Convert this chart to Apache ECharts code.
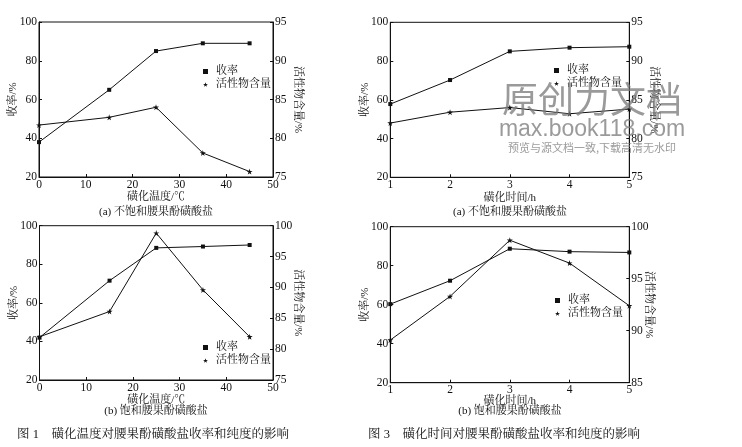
<!DOCTYPE html>
<html><head><meta charset="utf-8">
<script src="https://cdn.jsdelivr.net/npm/echarts@6/dist/echarts.min.js"></script>
<style>html,body{margin:0;padding:0;background:#fff}#c{width:742px;height:447px}</style>
</head><body><div id="c"></div>
<script>
const tempX = [0, 15, 25, 35, 45];
const timeX = [1, 2, 3, 4, 5];
const yieldTempA = [38, 65, 85, 89, 89];
const activeTempA = [81.7, 82.7, 84.0, 78.1, 75.7];
const yieldTempB = [42, 71.5, 88.5, 89.2, 90];
const activeTempB = [82.0, 86.1, 98.8, 89.6, 82.0];
const yieldTimeA = [57.8, 70.2, 85, 86.9, 87.4];
const activeTimeA = [82.0, 83.4, 84.0, 83.2, 83.8];
const yieldTimeB = [60.3, 72.3, 88.7, 87.2, 86.8];
const activeTimeB = [89.1, 93.3, 98.7, 96.5, 92.4];
const leftTicks = [20, 40, 60, 80, 100];

const FONT = '"Liberation Serif","Noto Serif CJK SC","Noto Sans CJK SC",serif';
const STAR = 'path://M50,0 L61,35 L98,35 L68,57 L79,91 L50,70 L21,91 L32,57 L2,35 L39,35 Z';
const zip = (xs, ys) => xs.map((x, i) => [x, ys[i]]);

const grids = [
  {left: 39, top: 22, width: 234, height: 155},
  {left: 39.5, top: 225.7, width: 233.5, height: 154.3},
  {left: 390.3, top: 22.3, width: 239, height: 155},
  {left: 390.3, top: 226.7, width: 239, height: 156}
].map(g => Object.assign({show: true, borderColor: '#111', borderWidth: 1, backgroundColor: 'transparent'}, g));

const axLine = {lineStyle: {color: '#111', width: 1}};
const axTick = {inside: true, length: 3, lineStyle: {color: '#111'}};
const lbl = {color: '#111', fontFamily: FONT, fontSize: 11.5, margin: 2};
const nameStyle = {color: '#111', fontFamily: FONT, fontSize: 11};

function xAx(i, min, max, interval, name, gap) {
  return {type: 'value', gridIndex: i, min, max, interval, name, nameLocation: 'middle', nameGap: gap, nameMoveOverlap: false,
    nameTextStyle: nameStyle, axisLine: axLine, axisTick: axTick, axisLabel: lbl, splitLine: {show: false}};
}
function yAxL(i) {
  return {type: 'value', gridIndex: i, min: leftTicks[0], max: leftTicks[leftTicks.length - 1], interval: 20,
    name: '收率/%', nameLocation: 'middle', nameGap: 20, nameMoveOverlap: false, nameTextStyle: nameStyle,
    axisLine: axLine, axisTick: axTick, axisLabel: lbl, splitLine: {show: false}};
}
function yAxR(i, min, max, gap) {
  return {type: 'value', gridIndex: i, position: 'right', min, max, interval: 5,
    name: '活性物含量/%', nameLocation: 'middle', nameGap: gap, nameRotate: -90, nameMoveOverlap: false, nameTextStyle: nameStyle,
    axisLine: axLine, axisTick: axTick, axisLabel: lbl, splitLine: {show: false}};
}

const xAxis = [
  xAx(0, 0, 50, 10, '磺化温度/℃', 15),
  xAx(1, 0, 50, 10, '磺化温度/℃', 14.5),
  xAx(2, 1, 5, 1, '磺化时间/h', 15),
  xAx(3, 1, 5, 1, '磺化时间/h', 12.5)
];
const yAxis = [
  yAxL(0), yAxR(0, 75, 95, 19),
  yAxL(1), yAxR(1, 75, 100, 19),
  yAxL(2), yAxR(2, 75, 95, 19),
  yAxL(3), yAxR(3, 85, 100, 14)
];

function ser(name, xi, yi, xs, ys, sym, size) {
  return {type: 'line', name, xAxisIndex: xi, yAxisIndex: yi, data: zip(xs, ys),
    symbol: sym, symbolSize: size, showSymbol: true,
    lineStyle: {color: '#111', width: 1}, itemStyle: {color: '#111'}, silent: true};
}
const series = [
  ser('收率', 0, 0, tempX, yieldTempA, 'rect', 4),
  ser('活性物含量', 0, 1, tempX, activeTempA, STAR, 6),
  ser('收率', 1, 2, tempX, yieldTempB, 'rect', 4),
  ser('活性物含量', 1, 3, tempX, activeTempB, STAR, 6),
  ser('收率', 2, 4, timeX, yieldTimeA, 'rect', 4),
  ser('活性物含量', 2, 5, timeX, activeTimeA, STAR, 6),
  ser('收率', 3, 6, timeX, yieldTimeB, 'rect', 4),
  ser('活性物含量', 3, 7, timeX, activeTimeB, STAR, 6)
];

function leg(left, top) {
  return {orient: 'vertical', left, top, padding: 0, itemWidth: 5, itemHeight: 5, itemGap: 0,
    selectedMode: false, textStyle: {color: '#111', fontFamily: FONT, fontSize: 11, lineHeight: 13, padding: [0, 0, 0, 3]},
    data: [{name: '收率', icon: 'rect'}, {name: '活性物含量', icon: STAR}]};
}
const legend = [leg(203, 65), leg(203, 341), leg(554, 64), leg(555, 294)];

function txt(x, y, text, size, extra) {
  return {type: 'text', x, y, style: Object.assign({text, fill: '#111', font: size + 'px ' + FONT, textAlign: 'center', textVerticalAlign: 'middle'}, extra || {})};
}
const WM = 'rgba(120,120,120,0.75)';
const graphic = [
  txt(156, 212, '(a) 不饱和腰果酚磺酸盐', 11),
  txt(156, 411, '(b) 饱和腰果酚磺酸盐', 11),
  txt(510, 212, '(a) 不饱和腰果酚磺酸盐', 11),
  txt(510, 411, '(b) 饱和腰果酚磺酸盐', 11),
  txt(17, 435, '图 1    磺化温度对腰果酚磺酸盐收率和纯度的影响', 12.5, {textAlign: 'left'}),
  txt(368, 435, '图 3    磺化时间对腰果酚磺酸盐收率和纯度的影响', 12.5, {textAlign: 'left'}),
  {type: 'text', x: 592, y: 99, z: 100, style: {text: '原创力文档', fill: WM, font: '36px "Noto Sans CJK SC"', textAlign: 'center', textVerticalAlign: 'middle'}},
  {type: 'text', x: 592, y: 130, z: 100, style: {text: 'max.book118.com', fill: WM, font: '23px "Liberation Sans"', textAlign: 'center', textVerticalAlign: 'middle'}},
  {type: 'text', x: 592, y: 148, z: 100, style: {text: '预览与源文档一致,下载高清无水印', fill: WM, font: '11px "Noto Sans CJK SC"', textAlign: 'center', textVerticalAlign: 'middle'}}
];

const chart = echarts.init(document.getElementById('c'));
chart.setOption({backgroundColor: '#fff', animation: false, grid: grids, xAxis, yAxis, series, legend, graphic});
</script></body></html>
